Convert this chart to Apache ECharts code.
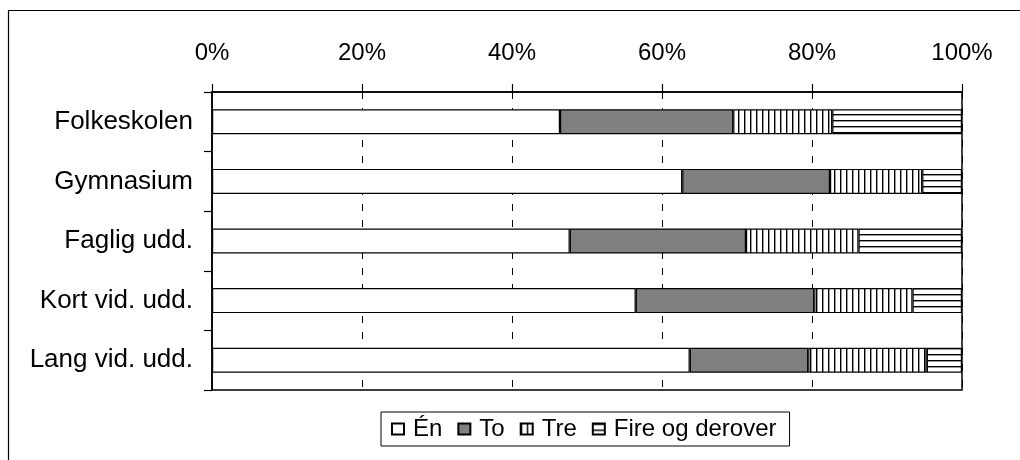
<!DOCTYPE html>
<html><head><meta charset="utf-8">
<script src="https://cdn.jsdelivr.net/npm/echarts@6/dist/echarts.min.js"></script>
<style>html,body{margin:0;padding:0;background:#fff}#c{width:1020px;height:460px}</style>
</head><body><div id="c"></div>
<script>
const categories = ['Folkeskolen', 'Gymnasium', 'Faglig udd.', 'Kort vid. udd.', 'Lang vid. udd.'];
const seriesNames = ['Én', 'To', 'Tre', 'Fire og derover'];
const valEn   = [46.4, 62.7, 47.7, 56.5, 63.7];
const valTo   = [23.1, 19.7, 23.5, 23.8, 15.8];
const valTre  = [13.2, 12.3, 15.0, 13.1, 15.8];
const valFire = [17.3, 5.3, 13.8, 6.6, 4.7];
const xTicks = [0, 20, 40, 60, 80, 100];

function hatch(vertical) {
  const c = document.createElement('canvas');
  c.width = 6; c.height = 6;
  const g = c.getContext('2d');
  g.fillStyle = '#fff'; g.fillRect(0, 0, 6, 6);
  g.fillStyle = '#000';
  if (vertical) g.fillRect(0, 0, 1.4, 6); else g.fillRect(0, 0, 6, 1.4);
  return c;
}
const fills = ['#ffffff', '#808080', {image: hatch(true), repeat: 'repeat'}, {image: hatch(false), repeat: 'repeat'}];
const datas = [valEn, valTo, valTre, valFire];
const font = 'Liberation Sans';

const chart = echarts.init(document.getElementById('c'), null, {renderer: 'canvas'});
chart.setOption({
  animation: false,
  backgroundColor: '#fff',
  textStyle: {fontFamily: font},
  graphic: [{type: 'rect', shape: {x: 8.5, y: 10.5, width: 1200, height: 700}, style: {fill: 'none', stroke: '#000', lineWidth: 1.2}, z: 100}],
  grid: {left: 212, right: 58, top: 92, bottom: 70, show: true, borderColor: '#000', borderWidth: 1.5, backgroundColor: 'transparent'},
  legend: {
    data: seriesNames, left: 381, top: 412, orient: 'horizontal',
    padding: [5, 13, 5, 10], itemGap: 15, itemWidth: 12, itemHeight: 11,
    borderColor: '#000', borderWidth: 1,
    textStyle: {fontFamily: font, fontSize: 24, color: '#000', padding: [0, 0, 0, 4]},
    icon: 'rect'
  },
  xAxis: {
    type: 'value', position: 'top', min: xTicks[0], max: xTicks[xTicks.length - 1], interval: 20,
    axisLine: {show: true, lineStyle: {color: '#000', width: 1.5}},
    axisTick: {show: true, length: 8, inside: false, lineStyle: {color: '#000', width: 1.2}},
    axisLabel: {formatter: '{value}%', fontSize: 24, color: '#000', fontFamily: font, margin: 27},
    splitLine: {show: true, lineStyle: {color: '#000', type: [7, 9], width: 1}}
  },
  yAxis: {
    type: 'category', data: categories, inverse: true,
    axisLine: {show: true, lineStyle: {color: '#000', width: 1.5}},
    axisTick: {show: true, length: 8, lineStyle: {color: '#000', width: 1.2}},
    axisLabel: {fontSize: 26, color: '#000', fontFamily: font, margin: 19, padding: [0, 0, 3, 0]}
  },
  series: datas.map((d, i) => ({
    name: seriesNames[i], type: 'bar', stack: 'total', data: d, barWidth: 25,
    itemStyle: {color: fills[i], borderColor: '#000', borderWidth: 1.2}
  }))
});
</script></body></html>
